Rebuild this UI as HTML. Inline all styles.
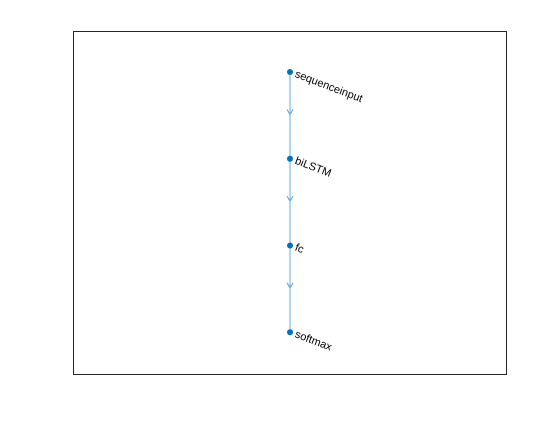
<!DOCTYPE html>
<html><head><meta charset="utf-8"><style>
body{margin:0;background:#fff}
svg text{font-family:"Liberation Sans",sans-serif;font-size:11px;fill:#000}
</style></head><body>
<svg id="chart" width="560" height="420">
<rect x="0" y="0" width="560" height="420" fill="#fff"/>
<rect x="73.5" y="31.5" width="433" height="343" fill="#fff" stroke="#262626" stroke-width="1"/>
<g id="plot"></g>
</svg>
<script>
const layerNames = ["sequenceinput","biLSTM","fc","softmax"];
const layerX = [1,1,1,1];
const edgesFrom = [0,1,2];
const edgesTo = [1,2,3];
const x0=73,x1=507,y0=31,y1=375;
const yMin=0.527,yMax=4.493;
const sy=v=>y0+(v-yMin)/(yMax-yMin)*(y1-y0);
const sx=v=>x0+(v-0.5)/1*(x1-x0)*0.5+ (x1-x0)*0.25;
const g=document.getElementById('plot');
const NS="http://www.w3.org/2000/svg";
function mk(t,a){const e=document.createElementNS(NS,t);for(const k in a)e.setAttribute(k,a[k]);g.appendChild(e);return e;}
edgesFrom.forEach((f,i)=>{
  const t=edgesTo[i];
  const xa=sx(layerX[f]),ya=sy(f+1),xb=sx(layerX[t]),yb=sy(t+1);
  const l=mk('line',{x1:xa,y1:ya,x2:xb,y2:yb,stroke:'#6baee0','stroke-width':1});
  
  
  const my=(ya+yb)/2-1, mx=(xa+xb)/2;
  const a=mk('path',{d:`M${mx-3},${my-5} L${mx},${my} L${mx+3},${my-5}`,stroke:'#6baee0','stroke-width':1.2,fill:'none'});
  
  
});
layerNames.forEach((n,i)=>{
  const x=sx(layerX[i]),y=sy(i+1);
  const c=mk('circle',{cx:x,cy:y,r:3,fill:'#0072bd'});
  
  
  const t=mk('text',{x:x+6,y:y+5,transform:`rotate(21 ${x+6} ${y})`});
  t.textContent=n;
  
  
});
</script>
</body></html>
